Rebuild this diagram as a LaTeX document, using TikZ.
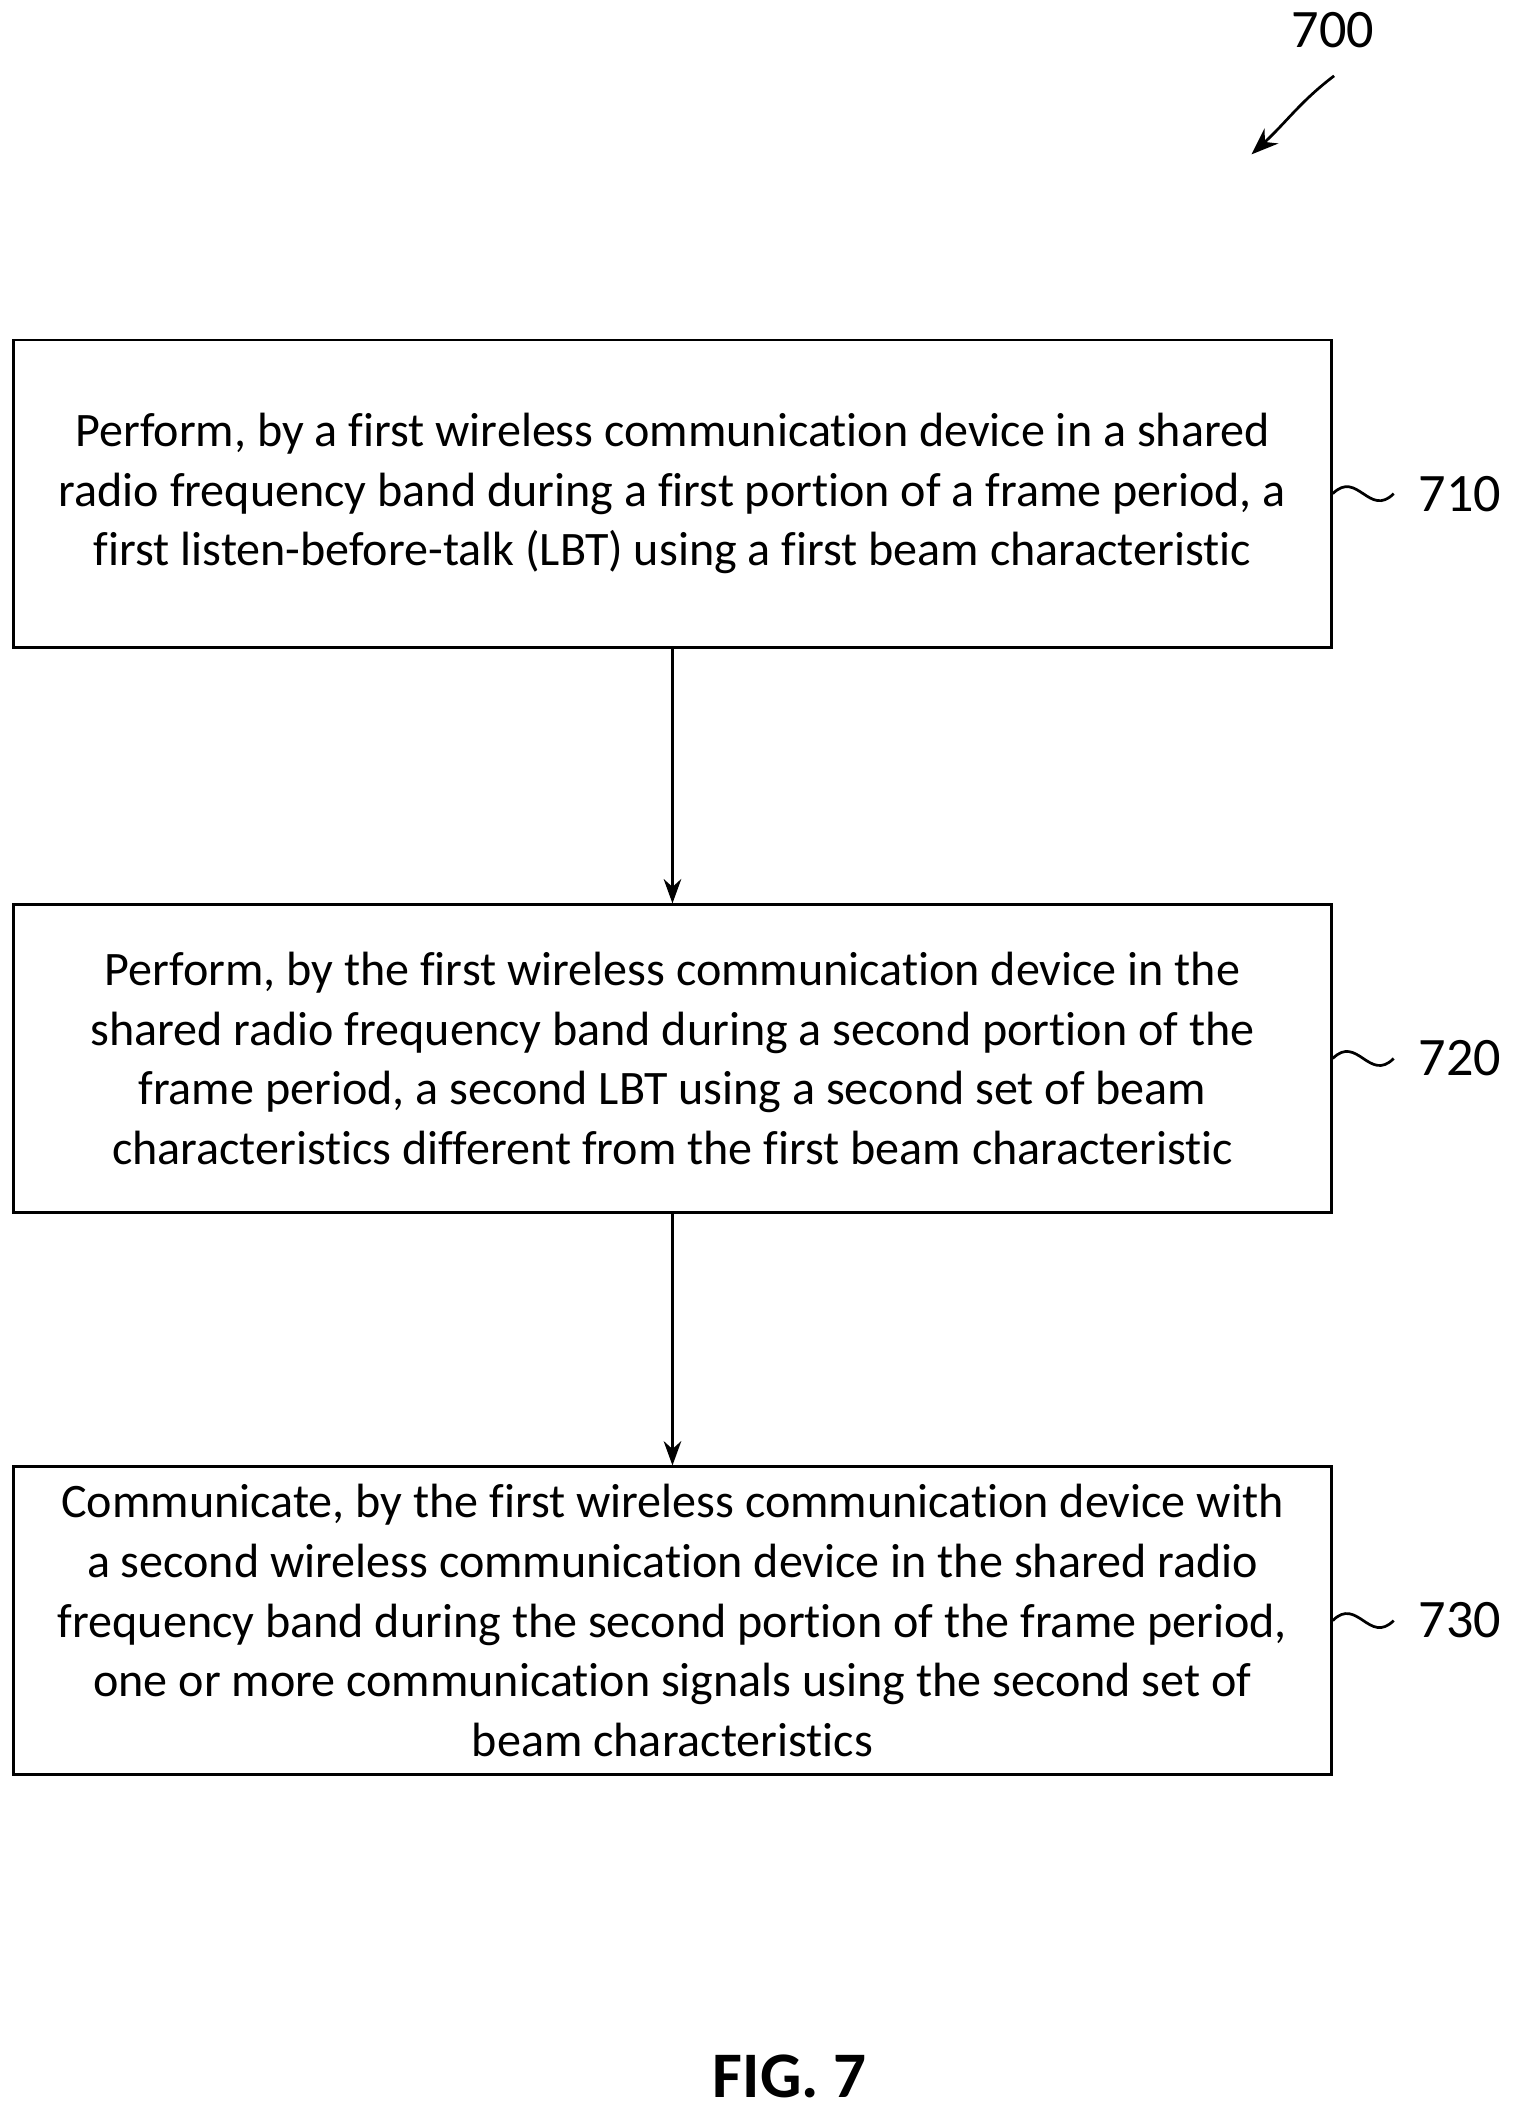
\documentclass[tikz,border=0pt]{standalone}
\usepackage{fontspec}
\setmainfont[Ligatures=NoCommon]{Carlito}
\usetikzlibrary{arrows.meta,positioning,calc}

\begin{document}
\begin{tikzpicture}[
    x=1pt, y=-1pt,
    box/.style={rectangle, draw, line width=2pt, minimum width=973pt, minimum height=227pt, align=center,
      font=\fontsize{35.5}{44}\selectfont, inner sep=0pt},
    num/.style={font=\fontsize{40}{44}\selectfont, anchor=west},
    arrow/.style={-{Stealth[length=18pt,width=13pt]}, line width=2pt},
    wave/.style={line width=2pt}
]
    \useasboundingbox (0,0) rectangle (1130,1566);

    \node[box] (step1) at (496.5,364.5) {Perform, by a first wireless communication device in a shared\\radio frequency band during a first portion of a frame period, a\\first listen-before-talk (LBT) using a first beam characteristic};
    \node[box] (step2) at (496.5,781.5) {Perform, by the first wireless communication device in the\\shared radio frequency band during a second portion of the\\frame period, a second LBT using a second set of beam\\characteristics different from the first beam characteristic};
    \node[box] (step3) at (496.5,1196.5) {Communicate, by the first wireless communication device with\\a second wireless communication device in the shared radio\\frequency band during the second portion of the frame period,\\one or more communication signals using the second set of\\beam characteristics};

    \draw[arrow] (step1) -- (step2);
    \draw[arrow] (step2) -- (step3);

    % reference numerals
    \foreach \s/\n in {step1/710, step2/720, step3/730} {
        \node[num] (lbl\n) at ($(\s.east)+(60,0)$) {\n};
        \draw[wave] (\s.east) .. controls ++(18,-18) and ++(-18,18) .. ($(\s.east)+(45,0)$);
    }

    \node[font=\fontsize{40}{44}\selectfont] (fig) at (984,22) {700};
    \coordinate (tip) at (924,114);
    \draw[-{Stealth[length=20pt,width=15pt]}, line width=2pt] (985,56) .. controls (960,75) and (950,90) .. (tip);

    \node[font=\bfseries\fontsize{48}{50}\selectfont] (title) at (583,1533) {FIG. 7};
\end{tikzpicture}
\end{document}
